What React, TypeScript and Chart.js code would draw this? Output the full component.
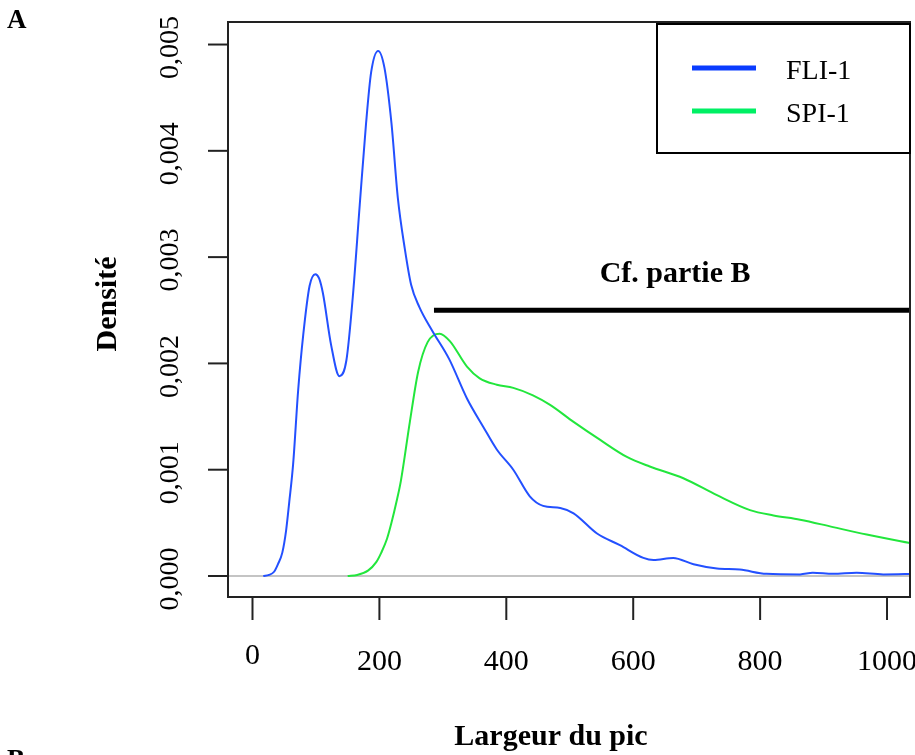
import React, { useEffect, useRef } from "react";
import { Chart, registerables } from "chart.js";

Chart.register(...registerables);

// ---- Data ----
const fliX = [17, 26, 34, 40, 47, 53, 58, 64, 72, 80, 90, 99, 105, 111, 124, 137, 148, 158, 169, 179, 187, 198, 208, 219, 229, 240, 250, 263, 283, 310, 338, 364, 385, 411, 437, 458, 485, 506, 543, 579, 616, 632, 663, 695, 732, 768, 810, 863, 883, 915, 952, 994, 1045];
const fliY = [0.0, 0.00001, 0.00004, 0.00011, 0.00022, 0.00043, 0.0007, 0.00105, 0.00175, 0.00227, 0.00273, 0.00284, 0.0028, 0.00266, 0.00217, 0.00188, 0.00203, 0.00262, 0.00349, 0.00426, 0.00474, 0.00494, 0.00478, 0.00426, 0.00356, 0.00308, 0.00274, 0.00253, 0.00231, 0.00204, 0.00167, 0.0014, 0.00119, 0.001, 0.00075, 0.00066, 0.00064, 0.00059, 0.0004, 0.00029, 0.00017, 0.00015, 0.00017, 0.00011, 0.00007, 0.00006, 0.00002, 0.000015, 0.00003, 0.00002, 0.00003, 0.000015, 0.00002];

const spiX = [150, 165, 182, 195, 203, 212, 219, 227, 234, 248, 261, 276, 295, 311, 338, 358, 385, 411, 442, 469, 506, 548, 590, 626, 679, 732, 784, 821, 863, 915, 968, 1045];
const spiY = [0.0, 0.00001, 0.00005, 0.00013, 0.00022, 0.00035, 0.0005, 0.0007, 0.0009, 0.00145, 0.00192, 0.0022, 0.00228, 0.00221, 0.00197, 0.00186, 0.0018, 0.00177, 0.0017, 0.00161, 0.00145, 0.00128, 0.00112, 0.00103, 0.00092, 0.00076, 0.00062, 0.00057, 0.00053, 0.00046, 0.00039, 0.0003];

const partBX = [286, 1100];
const partBY = [0.0025, 0.0025];
const partBLabel = "Cf. partie B";
const partBLabelX = 666;
const partBLabelY = 0.00277;

const seriesNames = ["FLI-1", "SPI-1"];
const xTicks = [0, 200, 400, 600, 800, 1000];
const xTickLabels = ["0", "200", "400", "600", "800", "1000"];
const yTicks = [0, 0.001, 0.002, 0.003, 0.004, 0.005];
const yTickLabels = ["0,000", "0,001", "0,002", "0,003", "0,004", "0,005"];
const xTitle = "Largeur du pic";
const yTitle = "Densité";

const X_MIN = -38.6;
const X_MAX = 1036.2;
const Y_MIN = -0.0001976;
const Y_MAX = 0.005212;

const SERIF = "'Liberation Serif', 'DejaVu Serif', serif";
const FLI_COLOR = "#2350ff";
const SPI_COLOR = "#22e63c";

const toPts = (xs: number[], ys: number[]) => xs.map((x, i) => ({ x, y: ys[i] }));

const decorPlugin = {
  id: "rDecor",
  beforeDatasetsDraw(chart: any) {
    const { ctx, chartArea, scales } = chart;
    const y0 = scales.y.getPixelForValue(0);
    ctx.save();
    ctx.strokeStyle = "#c4c4c4";
    ctx.lineWidth = 2;
    ctx.beginPath();
    ctx.moveTo(chartArea.left, y0);
    ctx.lineTo(chartArea.right, y0);
    ctx.stroke();
    ctx.restore();
  },
  afterDraw(chart: any) {
    const { ctx, chartArea, scales } = chart;
    const { left, right, top, bottom } = chartArea;
    const xs = scales.x;
    const ys = scales.y;
    ctx.save();
    // box
    ctx.strokeStyle = "#222";
    ctx.lineWidth = 2;
    ctx.strokeRect(left, top, right - left, bottom - top);

    // x ticks
    ctx.fillStyle = "#000";
    ctx.strokeStyle = "#222";
    ctx.font = `30px ${SERIF}`;
    ctx.textAlign = "center";
    ctx.textBaseline = "middle";
    xTicks.forEach((v, i) => {
      const px = xs.getPixelForValue(v);
      ctx.beginPath();
      ctx.moveTo(px, bottom);
      ctx.lineTo(px, bottom + 23);
      ctx.stroke();
      ctx.fillText(xTickLabels[i], px, i === 0 ? 656 : 662);
    });

    // y ticks
    yTicks.forEach((v, i) => {
      const py = ys.getPixelForValue(v);
      ctx.beginPath();
      ctx.moveTo(left, py);
      ctx.lineTo(left - 20, py);
      ctx.stroke();
      ctx.save();
      ctx.translate(171, py + 3);
      ctx.rotate(-Math.PI / 2);
      ctx.font = `28px ${SERIF}`;
      ctx.textAlign = "center";
      ctx.textBaseline = "middle";
      ctx.fillText(yTickLabels[i], 0, 0);
      ctx.restore();
    });

    // axis titles
    ctx.font = `bold 30px ${SERIF}`;
    ctx.textAlign = "center";
    ctx.textBaseline = "middle";
    ctx.fillText(xTitle, 551, 737);
    ctx.save();
    ctx.translate(108, 304);
    ctx.rotate(-Math.PI / 2);
    ctx.fillText(yTitle, 0, 0);
    ctx.restore();

    // panel letters
    ctx.font = `bold 27px ${SERIF}`;
    ctx.textAlign = "left";
    ctx.textBaseline = "alphabetic";
    ctx.fillText("A", 7, 28);
    ctx.fillText("B", 7, 768);

    // annotation
    ctx.font = `bold 30px ${SERIF}`;
    ctx.textAlign = "center";
    ctx.textBaseline = "alphabetic";
    ctx.fillText(partBLabel, xs.getPixelForValue(partBLabelX), ys.getPixelForValue(partBLabelY));

    // legend
    const lx = 657, ly = 24, lw = 253, lh = 129;
    ctx.fillStyle = "#fff";
    ctx.fillRect(lx, ly, lw, lh);
    ctx.strokeStyle = "#000";
    ctx.lineWidth = 2;
    ctx.strokeRect(lx, ly, lw, lh);
    const legColors = ["#0a3cff", "#00f064"];
    const legY = [68, 111];
    ctx.lineWidth = 5;
    ctx.font = `28px ${SERIF}`;
    ctx.textAlign = "left";
    ctx.textBaseline = "alphabetic";
    seriesNames.forEach((name, i) => {
      ctx.strokeStyle = legColors[i];
      ctx.beginPath();
      ctx.moveTo(692, legY[i]);
      ctx.lineTo(756, legY[i]);
      ctx.stroke();
      ctx.fillStyle = "#000";
      ctx.fillText(name, 786, legY[i] + 11);
    });
    ctx.restore();
  },
};

export default function App() {
  const canvasRef = useRef<HTMLCanvasElement | null>(null);
  useEffect(() => {
    if (!canvasRef.current) return;
    const chart = new Chart(canvasRef.current, {
      type: "scatter",
      data: {
        datasets: [
          {
            label: seriesNames[0],
            data: toPts(fliX, fliY),
            showLine: true,
            borderColor: FLI_COLOR,
            borderWidth: 2,
            pointRadius: 0,
            cubicInterpolationMode: "monotone",
          },
          {
            label: seriesNames[1],
            data: toPts(spiX, spiY),
            showLine: true,
            borderColor: SPI_COLOR,
            borderWidth: 2,
            pointRadius: 0,
            cubicInterpolationMode: "monotone",
          },
          {
            label: partBLabel,
            data: toPts(partBX, partBY),
            showLine: true,
            borderColor: "#000",
            borderWidth: 5,
            pointRadius: 0,
          },
        ],
      },
      options: {
        responsive: false,
        animation: false,
        devicePixelRatio: 1,
        layout: { padding: { left: 228, right: 5, top: 22, bottom: 158 } },
        plugins: { legend: { display: false }, tooltip: { enabled: false } },
        scales: {
          x: { type: "linear", min: X_MIN, max: X_MAX, display: false },
          y: { type: "linear", min: Y_MIN, max: Y_MAX, display: false },
        },
      },
      plugins: [decorPlugin],
    } as any);
    return () => chart.destroy();
  }, []);
  return (
    <div style={{ position: "absolute", left: 0, top: 0, width: 915, height: 755, background: "#fff" }}>
      <canvas ref={canvasRef} width={915} height={755} />
    </div>
  );
}
